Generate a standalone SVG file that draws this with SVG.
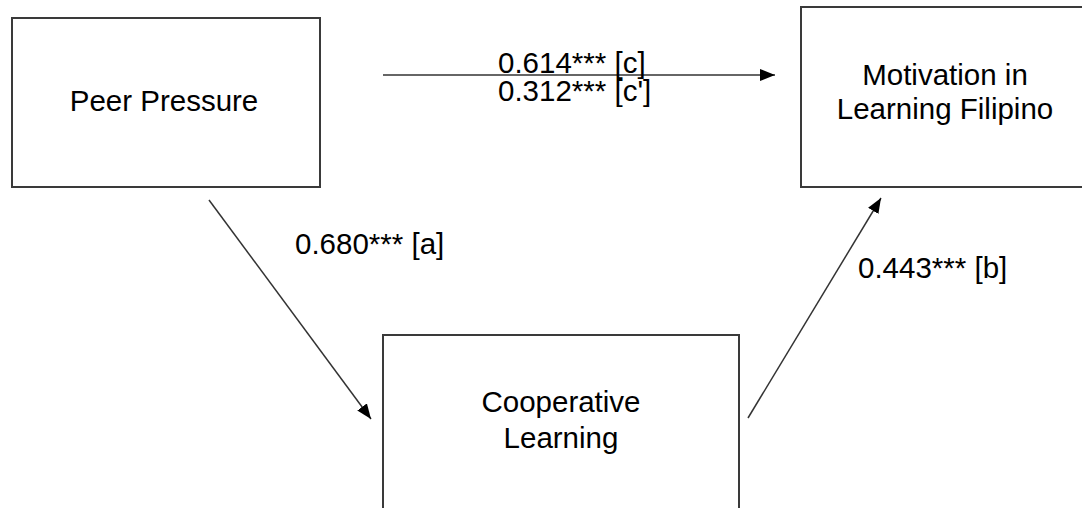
<svg xmlns="http://www.w3.org/2000/svg" width="1082" height="508" viewBox="0 0 1082 508">
<style>
.box{fill:#fff;stroke:#3a3a3a;stroke-width:2}
.lbl{font-family:"Liberation Sans",Arial,sans-serif;font-size:29.5px;fill:#000}
.edge{stroke:#333;stroke-width:1.5;fill:none;marker-end:url(#ah)}
</style>
<defs>
<marker id="ah" markerUnits="userSpaceOnUse" markerWidth="16" markerHeight="12" refX="15" refY="6" orient="auto">
<path d="M0,0 L15,6 L0,12 Z" fill="#000"/>
</marker>
</defs>
<rect width="1082" height="508" fill="#fff"/>
<g id="node-peer">
<rect class="box" x="12" y="18" width="308" height="169"/>
<text class="lbl" x="164" y="111" text-anchor="middle">Peer Pressure</text>
</g>
<g id="node-motivation">
<rect class="box" x="801" y="7" width="300" height="180"/>
<text class="lbl" x="945" y="85" text-anchor="middle">Motivation in</text>
<text class="lbl" x="945" y="119" text-anchor="middle">Learning Filipino</text>
</g>
<g id="node-cooperative">
<rect class="box" x="383" y="335" width="356" height="200"/>
<text class="lbl" x="561" y="412" text-anchor="middle">Cooperative</text>
<text class="lbl" x="561" y="448" text-anchor="middle">Learning</text>
</g>
<g id="connectors">
<line class="edge" x1="383" y1="75" x2="775" y2="75"/>
<line class="edge" x1="209" y1="200" x2="371" y2="419"/>
<line class="edge" x1="748" y1="418" x2="881" y2="198"/>
</g>
<g id="labels">
<text class="lbl" x="498" y="73">0.614*** [c]</text>
<text class="lbl" x="498" y="101">0.312*** [c']</text>
<text class="lbl" x="295" y="254">0.680*** [a]</text>
<text class="lbl" x="858" y="278">0.443*** [b]</text>
</g>
</svg>
